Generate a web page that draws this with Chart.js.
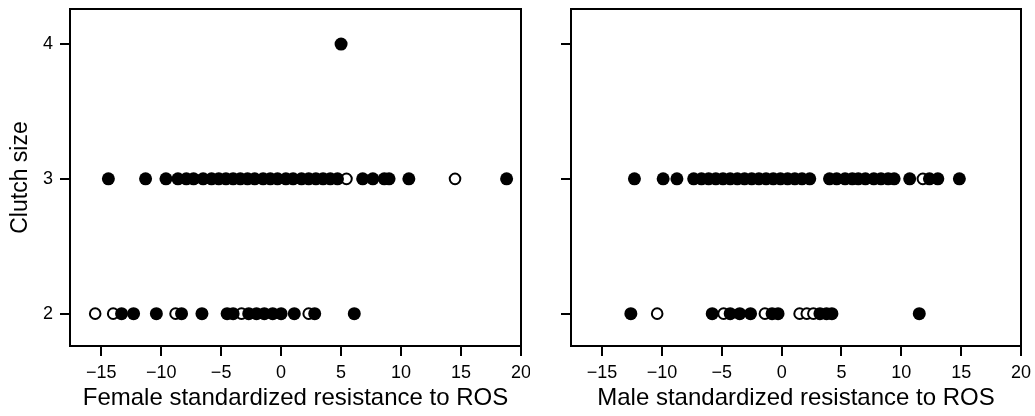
<!DOCTYPE html>
<html>
<head>
<meta charset="utf-8">
<title>Clutch size vs standardized resistance to ROS</title>
<script src="https://cdn.jsdelivr.net/npm/chart.js@4.4.1/dist/chart.umd.min.js"></script>
<style>
  html, body { margin: 0; padding: 0; background: #fff; }
  #wrap { position: relative; width: 1035px; height: 416px; }
  #wrap canvas { position: absolute; top: 0; }
  #female { left: 0; }
  #male { left: 530px; }
</style>
</head>
<body>
<div id="wrap">
  <canvas id="female" width="530" height="416"></canvas>
  <canvas id="male" width="505" height="416"></canvas>
</div>
<script>
'use strict';

/* ---- axes ---- */
const xTicks = [-15, -10, -5, 0, 5, 10, 15, 20];
const yTicks = [2, 3, 4];

/* ---- female panel (x values per clutch size) ---- */
const femaleFilled2 = [-13.3, -12.3, -10.4, -8.3, -6.6, -4.5, -4.0, -2.7, -2.05, -1.4, -0.7, 0.0, 1.1, 2.8, 6.1];
const femaleOpen2   = [-15.5, -14.0, -8.8, -3.3, 2.3];
const femaleFilled3 = [-14.4, -11.3, -9.6, -8.6, -7.9, -7.3, -6.5, -5.8, -5.2, -4.6, -4.0, -3.4, -2.8, -2.2,
                       -1.5, -0.9, -0.3, 0.4, 1.0, 1.7, 2.3, 2.9, 3.5, 4.1, 4.7, 6.8, 7.65, 8.6, 9.0, 10.65, 18.8];
const femaleOpen3   = [5.45, 14.5];
const femaleFilled4 = [5.0];

/* ---- male panel ---- */
const maleFilled2 = [-12.6, -5.8, -4.3, -3.5, -2.6, -0.8, -0.3, 3.2, 3.75, 4.2, 11.5];
const maleOpen2   = [-10.4, -4.85, -1.4, 1.5, 2.1, 2.65];
const maleFilled3 = [-12.3, -9.9, -8.75, -7.35, -6.7, -6.1, -5.5, -4.9, -4.3, -3.7, -3.1, -2.5, -1.9, -1.3,
                     -0.7, -0.1, 0.5, 1.1, 1.7, 2.35, 4.0, 4.6, 5.3, 5.9, 6.4, 7.0, 7.7, 8.3, 8.9, 9.4,
                     10.7, 12.35, 13.05, 14.85];
const maleOpen3   = [11.8];

const toPoints = (xs, y) => xs.map(x => ({ x, y }));
const minus = v => (v < 0 ? '\u2212' + Math.abs(v) : String(v));

// box round the plot area
const framePlugin = {
  id: 'frame',
  afterDraw(chart) {
    const { ctx, chartArea: a } = chart;
    ctx.save();
    ctx.strokeStyle = '#000';
    ctx.lineWidth = 2;
    ctx.strokeRect(a.left, a.top, a.right - a.left, a.bottom - a.top);
    ctx.restore();
  }
};

const FONT = "'Liberation Sans', Arial, Helvetica, sans-serif";

function makePanel(id, xTitle, filled, open, o) {
  new Chart(document.getElementById(id), {
    type: 'scatter',
    data: {
      datasets: [
        { data: filled, pointRadius: 6.5, pointBackgroundColor: '#000', pointBorderColor: '#000', pointBorderWidth: 0 },
        { data: open, pointRadius: 5.3, pointBackgroundColor: '#fff', pointBorderColor: '#000', pointBorderWidth: 2 }
      ]
    },
    options: {
      responsive: false,
      animation: false,
      devicePixelRatio: 1,
      layout: { padding: { top: 9, right: o.padRight, left: 0, bottom: 0 } },
      plugins: { legend: { display: false }, tooltip: { enabled: false } },
      scales: {
        x: {
          type: 'linear', min: -17.6, max: 20,
          afterBuildTicks: s => { s.ticks = xTicks.map(v => ({ value: v })); },
          afterFit: s => { s.height = 70; s.paddingLeft = 0; s.paddingRight = 0; },
          grid: { drawOnChartArea: false, drawTicks: true, tickLength: 10, color: '#000', lineWidth: 2 },
          border: { display: false },
          ticks: { color: '#000', font: { family: FONT, size: 18 }, padding: 6, maxRotation: 0, callback: minus },
          title: { display: true, text: xTitle, color: '#000', font: { family: FONT, size: 24 }, padding: { top: 0, bottom: 3 } }
        },
        y: {
          type: 'linear', min: 1.76, max: 4.26,
          afterBuildTicks: s => { s.ticks = yTicks.map(v => ({ value: v })); },
          afterFit: s => { s.width = o.yWidth; s.paddingTop = 0; s.paddingBottom = 0; },
          grid: { drawOnChartArea: false, drawTicks: true, tickLength: 10, color: '#000', lineWidth: 2 },
          border: { display: false },
          ticks: { display: o.yLabels, color: '#000', font: { family: FONT, size: 18 }, padding: 7 },
          title: { display: o.yLabels, text: 'Clutch size', color: '#000', font: { family: FONT, size: 23 }, padding: { top: 7, bottom: 0 } }
        }
      }
    },
    plugins: [framePlugin]
  });
}

makePanel('female', 'Female standardized resistance to ROS',
  [...toPoints(femaleFilled2, 2), ...toPoints(femaleFilled3, 3), ...toPoints(femaleFilled4, 4)],
  [...toPoints(femaleOpen2, 2), ...toPoints(femaleOpen3, 3)],
  { padRight: 9, yWidth: 70, yLabels: true });

makePanel('male', 'Male standardized resistance to ROS',
  [...toPoints(maleFilled2, 2), ...toPoints(maleFilled3, 3)],
  [...toPoints(maleOpen2, 2), ...toPoints(maleOpen3, 3)],
  { padRight: 14, yWidth: 41, yLabels: false });
</script>
</body>
</html>
